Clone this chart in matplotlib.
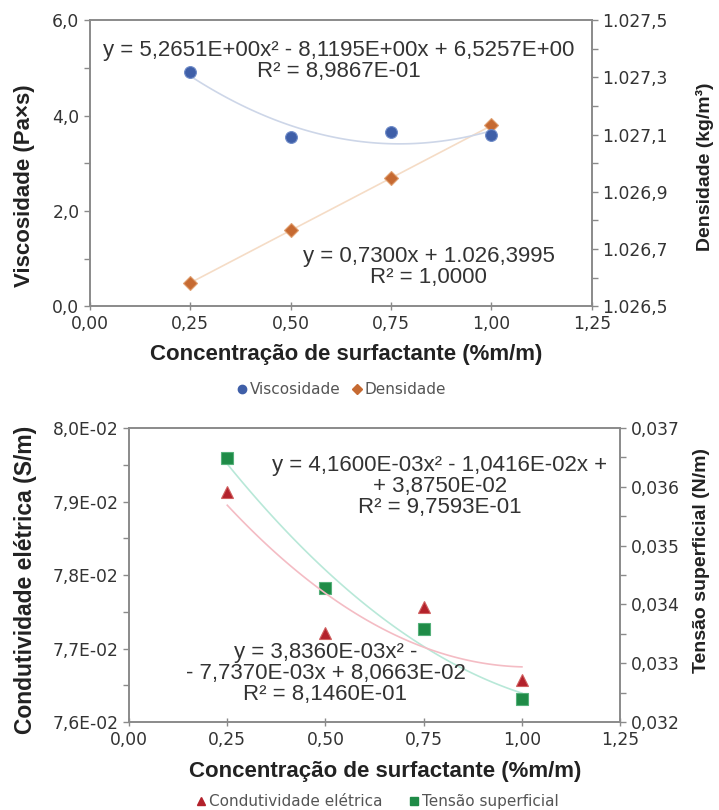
import numpy as np
import matplotlib
matplotlib.use("Agg")
import matplotlib.pyplot as plt
from matplotlib.ticker import FuncFormatter, FixedLocator
from matplotlib.lines import Line2D

plt.rcParams['font.family'] = ['DejaVu Sans']

# data
conc = [0.25, 0.50, 0.75, 1.00]
viscosidade = [4.91, 3.55, 3.65, 3.60]
densidade = [1026.582, 1026.765, 1026.947, 1027.132]
condutividade = [0.07913, 0.07721, 0.07756, 0.07657]
tensao = [0.03649, 0.03428, 0.03359, 0.03239]

x_ticks = [0, 0.25, 0.5, 0.75, 1.0, 1.25]
visc_ticks = [0, 2, 4, 6]
visc_minor = [1, 3, 5]
dens_ticks = [1026.5, 1026.7, 1026.9, 1027.1, 1027.3, 1027.5]
dens_minor = [1026.6, 1026.8, 1027.0, 1027.2, 1027.4]
cond_ticks = [0.076, 0.077, 0.078, 0.079, 0.080]
cond_minor = [0.0765, 0.0775, 0.0785, 0.0795]
tens_ticks = [0.032, 0.033, 0.034, 0.035, 0.036, 0.037]
tens_minor = [0.0325, 0.0335, 0.0345, 0.0355, 0.0365]

eq_visc = ["y = 5,2651E+00x\u00b2 - 8,1195E+00x + 6,5257E+00", "R\u00b2 = 8,9867E-01"]
eq_dens = ["y = 0,7300x + 1.026,3995", "R\u00b2 = 1,0000"]
eq_tens = ["y = 4,1600E-03x\u00b2 - 1,0416E-02x +", "+ 3,8750E-02", "R\u00b2 = 9,7593E-01"]
eq_cond = ["y = 3,8360E-03x\u00b2 -", "- 7,7370E-03x + 8,0663E-02", "R\u00b2 = 8,1460E-01"]

c_visc = '#3f5fa8'
c_dens = '#c66a32'
c_cond = '#b3212b'
c_tens = '#1f8b47'
grey = '#8a8a8a'
txt = '#333333'
lab = '#222222'
arial = 'Liberation Sans'


def comma(fmt):
    return FuncFormatter(lambda v, p: (fmt % v).replace('.', ','))


def dens_fmt(v, p):
    s = '%.1f' % v
    ip, dp = s.split('.')
    return ip[:-3] + '.' + ip[-3:] + ',' + dp


def sci_fmt(v, p):
    return ('%.1E' % v).replace('.', ',')


def trend(x, y, deg):
    coef = np.polyfit(x, y, deg)
    xs = np.linspace(min(x), max(x), 100)
    return xs, np.polyval(coef, xs)


def style(ax):
    for s in ax.spines.values():
        s.set_color(grey)
        s.set_linewidth(1.2)
    ax.tick_params(axis='both', which='both', colors=grey, labelcolor=txt,
                   labelsize=12.3, direction='out', length=4, width=1)
    ax.tick_params(axis='x', direction='inout', length=6)


def eq_text(ax, lines, x, y):
    ax.text(x, y, '\n'.join(lines), transform=ax.transAxes, ha='center',
            va='center', fontsize=16, color=txt, linespacing=1.0,
            family=arial)


fig = plt.figure(figsize=(7.19, 8.10), dpi=100)

# ---------------- top chart ----------------
ax1 = fig.add_axes([0.125, 0.622, 0.698, 0.353])
ax2 = ax1.twinx()
ax1.set_zorder(ax2.get_zorder() + 1)
ax1.patch.set_visible(False)

xs, ys = trend(conc, viscosidade, 2)
ax1.plot(xs, ys, color='#cdd6e8', lw=1.2)
xs, ys = trend(conc, densidade, 1)
ax2.plot(xs, ys, color='#f5dcc6', lw=1.2)
ax2.plot(conc, densidade, 'D', color=c_dens, ms=7, mec='#e0a070', mew=0.8)
ax1.plot(conc, viscosidade, 'o', color=c_visc, ms=8.5, mec='#6f8cc8', mew=0.8)

ax1.set_xlim(0, 1.25)
ax1.set_ylim(0, 6)
ax2.set_ylim(1026.5, 1027.5)
ax1.xaxis.set_major_locator(FixedLocator(x_ticks))
ax1.yaxis.set_major_locator(FixedLocator(visc_ticks))
ax1.yaxis.set_minor_locator(FixedLocator(visc_minor))
ax2.yaxis.set_major_locator(FixedLocator(dens_ticks))
ax2.yaxis.set_minor_locator(FixedLocator(dens_minor))
ax1.xaxis.set_major_formatter(comma('%.2f'))
ax1.yaxis.set_major_formatter(comma('%.1f'))
ax2.yaxis.set_major_formatter(FuncFormatter(dens_fmt))
style(ax1)
style(ax2)

ax1.set_xlabel('Concentra\u00e7\u00e3o de surfactante (%m/m)', fontsize=16,
               fontweight='bold', color=lab, family=arial)
ax1.xaxis.set_label_coords(0.51, -0.133)
ax1.set_ylabel('Viscosidade (Pa\u00d7s)', fontsize=16, fontweight='bold',
               color=lab, family=arial)
ax1.yaxis.set_label_coords(-0.11, 0.42)
ax2.set_ylabel('Densidade (kg/m\u00b3)', fontsize=14, fontweight='bold',
               color=lab, family=arial)
ax2.yaxis.set_label_coords(1.207, 0.486)

eq_text(ax1, eq_visc, 0.496, 0.857)
eq_text(ax1, eq_dens, 0.675, 0.136)

h1 = [Line2D([], [], marker='o', ls='', color=c_visc, ms=6),
      Line2D([], [], marker='D', ls='', color=c_dens, ms=5)]
fig.legend(h1, ['Viscosidade', 'Densidade'], loc='center',
           bbox_to_anchor=(0.473, 0.519), ncol=2, frameon=False, fontsize=11,
           handletextpad=0.0, columnspacing=0.6, labelcolor='#555555',
           handlelength=1.0)

# ---------------- bottom chart ----------------
ax3 = fig.add_axes([0.1795, 0.1086, 0.683, 0.363])
ax4 = ax3.twinx()
ax3.set_zorder(ax4.get_zorder() + 1)
ax3.patch.set_visible(False)

xs, ys = trend(conc, condutividade, 2)
ax3.plot(xs, ys, color='#f4bcc4', lw=1.2)
xs, ys = trend(conc, tensao, 2)
ax4.plot(xs, ys, color='#b8e8d8', lw=1.2)
ax4.plot(conc, tensao, 's', color=c_tens, ms=9, mec='#55b07a', mew=0.8)
ax3.plot(conc, condutividade, '^', color=c_cond, ms=8.5, mec='#d06060', mew=0.8)

ax3.set_xlim(0, 1.25)
ax3.set_ylim(0.076, 0.080)
ax4.set_ylim(0.032, 0.037)
ax3.xaxis.set_major_locator(FixedLocator(x_ticks))
ax3.yaxis.set_major_locator(FixedLocator(cond_ticks))
ax3.yaxis.set_minor_locator(FixedLocator(cond_minor))
ax4.yaxis.set_major_locator(FixedLocator(tens_ticks))
ax4.yaxis.set_minor_locator(FixedLocator(tens_minor))
ax3.xaxis.set_major_formatter(comma('%.2f'))
ax3.yaxis.set_major_formatter(FuncFormatter(sci_fmt))
ax4.yaxis.set_major_formatter(comma('%.3f'))
style(ax3)
style(ax4)

ax3.set_xlabel('Concentra\u00e7\u00e3o de surfactante (%m/m)', fontsize=16,
               fontweight='bold', color=lab, family=arial)
ax3.xaxis.set_label_coords(0.521, -0.133)
ax3.set_ylabel('Condutividade el\u00e9trica (S/m)', fontsize=16.5,
               fontweight='bold', color=lab, family=arial)
ax3.yaxis.set_label_coords(-0.188, 0.483)
ax4.set_ylabel('Tens\u00e3o superficial (N/m)', fontsize=14, fontweight='bold',
               color=lab, family=arial)
ax4.yaxis.set_label_coords(1.149, 0.551)

eq_text(ax3, eq_tens, 0.633, 0.80)
eq_text(ax3, eq_cond, 0.40, 0.165)

h2 = [Line2D([], [], marker='^', ls='', color=c_cond, ms=6),
      Line2D([], [], marker='s', ls='', color=c_tens, ms=6)]
fig.legend(h2, ['Condutividade el\u00e9trica', 'Tens\u00e3o superficial'],
           loc='center', bbox_to_anchor=(0.523, 0.01), ncol=2, frameon=False,
           fontsize=11, handletextpad=0.0, columnspacing=1.6,
           labelcolor='#555555', handlelength=1.0)

fig.savefig('out.png', dpi=100)
